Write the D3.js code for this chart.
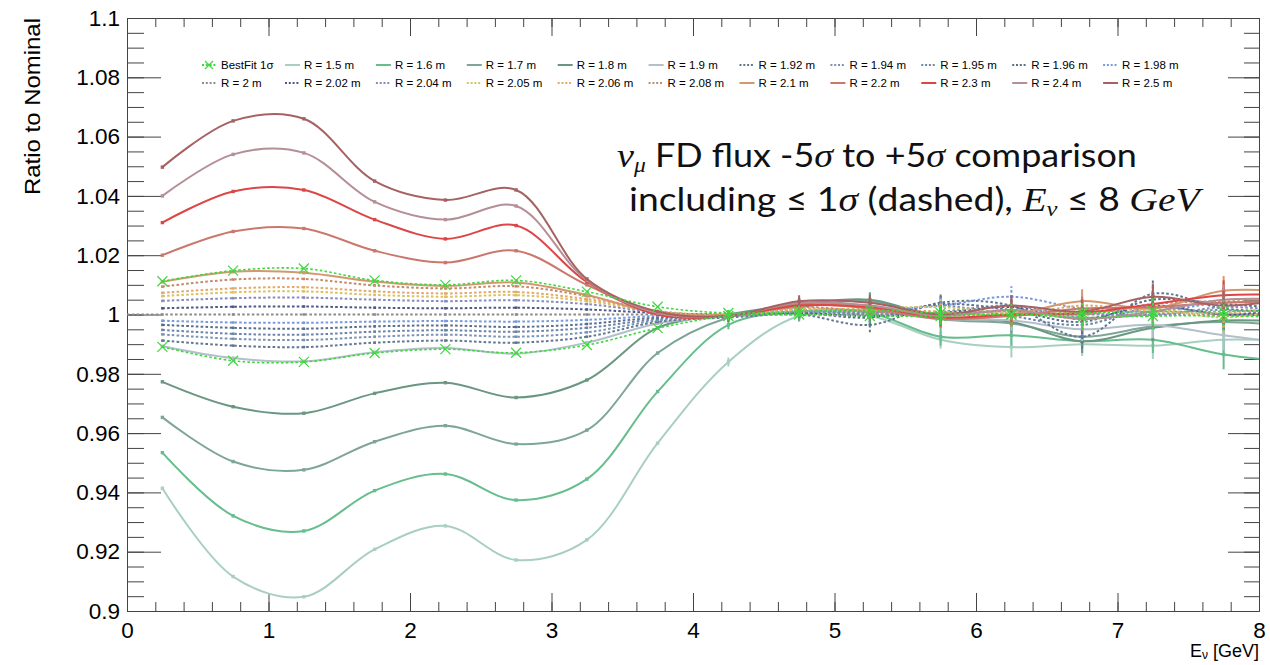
<!DOCTYPE html>
<html><head><meta charset="utf-8">
<script src="https://cdn.jsdelivr.net/npm/d3@7"></script>
<style>body{margin:0;background:#fff}svg{display:block}</style>
</head><body>
<svg id="chart" width="1270" height="665"></svg>
<script>
// ---------------- DATA ----------------
const energies = [0.25,0.75,1.25,1.75,2.25,2.75,3.25,3.75,4.25,4.75,5.25,5.75,6.25,6.75,7.25,7.75,8.25];
const xTickLabels = ["0","1","2","3","4","5","6","7","8"];
const yTickLabels = ["0.9","0.92","0.94","0.96","0.98","1","1.02","1.04","1.06","1.08","1.1"];

const bestFitUp   = [1.0112,1.0148,1.0155,1.0115,1.0100,1.0115,1.0077,1.0026,1.0005,1.0010,1.0015,1.0005,1.0000,1.0005,1.0010,1.0010,1.0015];
const bestFitDown = [0.9891,0.9844,0.9840,0.9870,0.9883,0.9871,0.9897,0.9954,0.9995,1.0000,0.9995,0.9995,1.0000,0.9990,0.9995,0.9995,0.9990];

const r150 = [0.9414,0.9116,0.9048,0.9208,0.9287,0.9172,0.9240,0.9566,0.9840,0.9995,0.9995,0.9915,0.9890,0.9900,0.9895,0.9915,0.9910];
const r160 = [0.9534,0.9321,0.9270,0.9406,0.9462,0.9374,0.9445,0.9740,0.9965,1.0010,1.0005,0.9925,0.9930,0.9910,0.9915,0.9865,0.9840];
const r170 = [0.9653,0.9504,0.9476,0.9571,0.9625,0.9563,0.9610,0.9870,0.9990,1.0025,1.0045,0.9985,0.9970,0.9925,0.9960,0.9975,0.9960];
const r180 = [0.9773,0.9689,0.9667,0.9734,0.9770,0.9720,0.9779,0.9955,1.0000,1.0035,1.0050,0.9990,0.9975,0.9910,0.9955,0.9980,0.9975];
const r190 = [0.9893,0.9853,0.9842,0.9873,0.9887,0.9868,0.9905,0.9970,0.9995,1.0010,1.0010,0.9985,0.9980,0.9950,0.9965,0.9930,0.9900];
const r192 = [0.9912,0.9895,0.9890,0.9905,0.9912,0.9905,0.9925,0.9975,0.9990,1.0000,0.9965,1.0040,1.0030,0.9925,1.0070,1.0020,1.0010];
const r194 = [0.9933,0.9918,0.9914,0.9925,0.9932,0.9925,0.9940,0.9980,0.9995,1.0010,1.0000,1.0010,1.0030,0.9990,1.0000,1.0015,0.9990];
const r195 = [0.9948,0.9935,0.9932,0.9942,0.9947,0.9942,0.9955,0.9985,0.9998,1.0015,1.0005,1.0030,0.9995,0.9965,1.0025,1.0000,1.0005];
const r196 = [0.9965,0.9955,0.9952,0.9960,0.9963,0.9958,0.9968,0.9990,0.9998,1.0005,0.9990,1.0035,1.0015,0.9975,1.0050,1.0035,1.0020];
const r198 = [0.9979,0.9973,0.9972,0.9976,0.9978,0.9976,0.9982,0.9995,1.0000,1.0010,1.0015,1.0030,1.0060,1.0020,1.0010,1.0040,1.0035];
const r200 = [1,1,1,1,1,1,1,1,1,1,1,1,1,1,1,1,1];
const r202 = [1.0021,1.0026,1.0027,1.0023,1.0021,1.0023,1.0017,1.0005,1.0000,1.0005,0.9995,1.0005,1.0025,0.9985,1.0030,1.0000,1.0015];
const r204 = [1.0046,1.0055,1.0057,1.0050,1.0045,1.0048,1.0035,1.0008,0.9995,1.0010,1.0010,1.0000,1.0015,1.0005,0.9995,1.0025,1.0010];
const r205 = [1.0062,1.0075,1.0078,1.0066,1.0060,1.0065,1.0045,1.0010,0.9998,1.0015,1.0020,1.0025,1.0005,1.0010,1.0020,0.9990,1.0020];
const r206 = [1.0073,1.0088,1.0092,1.0078,1.0071,1.0076,1.0052,1.0012,0.9998,1.0020,1.0015,1.0010,0.9995,1.0030,1.0010,1.0005,1.0030];
const r208 = [1.0094,1.0118,1.0120,1.0098,1.0088,1.0095,1.0062,1.0010,0.9998,1.0025,1.0010,1.0005,1.0010,1.0000,1.0035,1.0045,1.0040];
const r210 = [1.0110,1.0144,1.0141,1.0111,1.0096,1.0108,1.0066,1.0005,0.9998,1.0030,1.0030,0.9990,1.0000,1.0045,1.0020,1.0080,1.0075];
const r220 = [1.0200,1.0280,1.0290,1.0215,1.0175,1.0215,1.0100,1.0000,0.9995,1.0035,1.0020,0.9985,0.9995,1.0020,1.0025,1.0040,1.0045];
const r230 = [1.0310,1.0415,1.0420,1.0320,1.0255,1.0300,1.0110,1.0000,0.9995,1.0030,1.0025,0.9990,1.0000,1.0005,1.0035,1.0065,1.0065];
const r240 = [1.0400,1.0540,1.0545,1.0380,1.0320,1.0366,1.0115,1.0005,0.9995,1.0040,1.0030,0.9995,1.0015,0.9985,1.0010,1.0050,1.0050];
const r250 = [1.0497,1.0653,1.0660,1.0450,1.0386,1.0420,1.0120,1.0010,0.9995,1.0045,1.0040,1.0000,1.0030,1.0010,1.0060,1.0030,1.0055];

const statErrors = [0.0002,0.0002,0.0002,0.0002,0.0003,0.0004,0.0005,0.0008,0.0015,0.0020,0.0025,0.0030,0.0035,0.0040,0.0045,0.0050,0.0050];

const radiusLabels = ["R = 1.5 m","R = 1.6 m","R = 1.7 m","R = 1.8 m","R = 1.9 m","R = 1.92 m","R = 1.94 m","R = 1.95 m","R = 1.96 m","R = 1.98 m",
                      "R = 2 m","R = 2.02 m","R = 2.04 m","R = 2.05 m","R = 2.06 m","R = 2.08 m","R = 2.1 m","R = 2.2 m","R = 2.3 m","R = 2.4 m","R = 2.5 m"];
const radiusValues = [r150,r160,r170,r180,r190,r192,r194,r195,r196,r198,r200,r202,r204,r205,r206,r208,r210,r220,r230,r240,r250];
const radiusColors = ["#a9cfc0","#66bd8e","#7ea696","#6a9782","#b3bfcb","#62778f","#7b93b3","#6c84aa","#5b6f8a","#7799dd",
                      "#8c8c8c","#4e5889","#8a8abf","#d8c262","#e6a868","#c48a6c","#d39870","#cb786c","#dc4646","#b58e96","#a66262"];
const radiusDotted = [false,false,false,false,false,true,true,true,true,true,true,true,true,true,true,true,false,false,false,false,false];
const bestFitLabel = "BestFit 1σ";
const bestFitColor = "#3fd83f";

// ---------------- LAYOUT ----------------
const svg = d3.select("#chart");
const W = 1270, H = 665;
const plot = {left:127, right:1259, top:18, bottom:611};
const x = d3.scaleLinear().domain([0,8]).range([plot.left, plot.right]);
const y = d3.scaleLinear().domain([0.9,1.1]).range([plot.bottom, plot.top]);
const font = "'Liberation Sans', Arial, Helvetica, sans-serif";

svg.append("rect").attr("width",W).attr("height",H).attr("fill","#fff");
svg.append("defs").append("clipPath").attr("id","clip").append("rect")
  .attr("x",plot.left).attr("y",plot.top).attr("width",plot.right-plot.left).attr("height",plot.bottom-plot.top);

const dashFor = d => d ? "2.6,2.2" : null;

// ---------------- AXES ----------------
const yMajor = d3.range(0,11).map(i=>0.9+i*0.02);
const yMinor = d3.range(0,41).map(i=>0.9+i*0.005);
const xMajor = d3.range(0,9);
const xMinor = d3.range(0,41).map(i=>i*0.2);

function styleAxis(g){
  g.select(".domain").attr("stroke","#444").attr("stroke-width",1);
  g.selectAll(".tick line").attr("stroke","#444").attr("stroke-width",1);
  g.selectAll("text").attr("fill","#000");
}
svg.append("g").attr("transform",`translate(${plot.left},0)`)
  .call(d3.axisLeft(y).tickValues(yMinor).tickSize(-17).tickSizeOuter(0).tickFormat(""))
  .call(styleAxis);
svg.append("g").attr("transform",`translate(${plot.left},0)`)
  .call(d3.axisLeft(y).tickValues(yMajor).tickSize(-34).tickSizeOuter(0).tickPadding(7)
        .tickFormat((d,i)=>yTickLabels[i]))
  .call(styleAxis)
  .call(g=>g.selectAll("text").attr("font-family",font).attr("font-size",22.5));
svg.append("g").attr("transform",`translate(${plot.right},0)`)
  .call(d3.axisRight(y).tickValues(yMinor).tickSize(-15).tickSizeOuter(0).tickFormat(""))
  .call(styleAxis);
svg.append("g").attr("transform",`translate(${plot.right},0)`)
  .call(d3.axisRight(y).tickValues(yMajor).tickSize(-31).tickSizeOuter(0).tickFormat(""))
  .call(styleAxis);
svg.append("g").attr("transform",`translate(0,${plot.bottom})`)
  .call(d3.axisBottom(x).tickValues(xMinor).tickSize(-9).tickSizeOuter(0).tickFormat(""))
  .call(styleAxis);
svg.append("g").attr("transform",`translate(0,${plot.bottom})`)
  .call(d3.axisBottom(x).tickValues(xMajor).tickSize(-18).tickSizeOuter(0).tickPadding(11)
        .tickFormat((d,i)=>xTickLabels[i]))
  .call(styleAxis)
  .call(g=>g.selectAll("text").attr("font-family",font).attr("font-size",22.5));
svg.append("g").attr("transform",`translate(0,${plot.top})`)
  .call(d3.axisTop(x).tickValues(xMinor).tickSize(-9).tickSizeOuter(0).tickFormat(""))
  .call(styleAxis);
svg.append("g").attr("transform",`translate(0,${plot.top})`)
  .call(d3.axisTop(x).tickValues(xMajor).tickSize(-18).tickSizeOuter(0).tickFormat(""))
  .call(styleAxis);

// titles
svg.append("text").attr("transform",`translate(40,${plot.top}) rotate(-90)`)
  .attr("text-anchor","end").attr("font-family",font).attr("font-size",22)
  .attr("textLength",177).attr("lengthAdjust","spacingAndGlyphs")
  .text("Ratio to Nominal");
const xt = svg.append("text").attr("x",plot.right).attr("y",657).attr("text-anchor","end")
  .attr("font-family",font).attr("font-size",18);
xt.append("tspan").text("E");
xt.append("tspan").attr("dy",2).attr("font-size",12).text("ν");
xt.append("tspan").attr("dy",-2).text(" [GeV]");

// ---------------- CURVES ----------------
const plotG = svg.append("g").attr("clip-path","url(#clip)");
const smooth = d3.line().x(d=>x(d.e)).y(d=>y(d.v)).curve(d3.curveCatmullRom.alpha(0.5));
const straight = d3.line().x(d=>x(d.e)).y(d=>y(d.v));

function drawSeries(values, color, dotted, marker, width){
  const pts = energies.map((e,i)=>({e, v:values[i], err:statErrors[i]}));
  const flat = values.every(v=>v===values[0]);
  const g = plotG.append("g");
  const d = flat ? straight([{e:x.domain()[0],v:values[0]},{e:x.domain()[1],v:values[0]}]) : smooth(pts);
  g.append("path").attr("d", d).attr("fill","none").attr("stroke",color)
    .attr("stroke-width",width).attr("stroke-dasharray",dashFor(dotted));
  g.selectAll("line.err").data(pts.filter(p=>p.err>0.0009)).join("line").attr("class","err")
    .attr("x1",p=>x(p.e)).attr("x2",p=>x(p.e)).attr("y1",p=>y(p.v-p.err)).attr("y2",p=>y(p.v+p.err))
    .attr("stroke",color).attr("stroke-width",width).attr("stroke-dasharray",dashFor(dotted));
  if (marker === "x") {
    g.selectAll("path.mk").data(pts).join("path").attr("class","mk")
      .attr("d",p=>`M${x(p.e)-5},${y(p.v)-5}L${x(p.e)+5},${y(p.v)+5}M${x(p.e)-5},${y(p.v)+5}L${x(p.e)+5},${y(p.v)-5}`)
      .attr("stroke",color).attr("stroke-width",1.2).attr("fill","none");
  } else {
    const s = dotted ? 2.6 : 3.4;
    g.selectAll("rect.mk").data(pts).join("rect").attr("class","mk")
      .attr("x",p=>x(p.e)-s/2).attr("y",p=>y(p.v)-s/2).attr("width",s).attr("height",s).attr("fill",color);
  }
}
radiusValues.forEach((vals,i)=>drawSeries(vals, radiusColors[i], radiusDotted[i], "sq", 2));
drawSeries(bestFitUp, bestFitColor, true, "x", 1.6);
drawSeries(bestFitDown, bestFitColor, true, "x", 1.6);

// ---------------- LEGEND ----------------
const legendEntries = [{label:bestFitLabel, color:bestFitColor, dotted:true, marker:"x"}]
  .concat(radiusLabels.map((l,i)=>({label:l, color:radiusColors[i], dotted:radiusDotted[i], marker:"sq"})));
const leg = svg.append("g").attr("font-family",font).attr("font-size",11.5);
legendEntries.forEach((en,i)=>{
  const row = Math.floor(i/11), col = i%11;
  const sx = col===0 ? 202 : 285 + (col-1)*90.9;
  const sy = 65 + row*18;
  leg.append("line").attr("x1",sx).attr("x2",sx+15).attr("y1",sy).attr("y2",sy)
    .attr("stroke",en.color).attr("stroke-width",2).attr("stroke-dasharray",en.dotted?"2,1.8":null);
  if (en.marker==="x") {
    leg.append("path").attr("d",`M${sx+3},${sy-4}L${sx+11},${sy+4}M${sx+3},${sy+4}L${sx+11},${sy-4}`)
      .attr("stroke",en.color).attr("stroke-width",1.2).attr("fill","none");
  }
  leg.append("text").attr("x",sx+19).attr("y",sy).attr("dy","0.35em").attr("fill","#000").text(en.label);
});

// ---------------- ANNOTATION ----------------
const ann = svg.append("g").attr("font-family","Lato,'Open Sans',sans-serif").attr("font-size",32).attr("fill","#111");
const mathFont = "'Liberation Serif','DejaVu Serif',serif";
function richLine(parts, x0, y0, targetW){
  const t = ann.append("text").attr("x",x0).attr("y",y0);
  let shift = 0;
  parts.forEach(p=>{
    const ts = t.append("tspan").text(p.t);
    if (p.m) ts.attr("font-family",mathFont).attr("font-style","italic").attr("font-size",34);
    const want = p.s ? 5 : 0;
    if (want!==shift) { ts.attr("dy", want-shift); shift = want; }
    if (p.s) ts.attr("font-size",21);
  });
  const w = t.node().getComputedTextLength();
  const s = targetW / w;
  t.attr("transform",`translate(${x0},0) scale(${s},1) translate(${-x0},0)`);
}
richLine([{t:"ν",m:1},{t:"μ",m:1,s:1},{t:" FD flux -5"},{t:"σ",m:1},{t:" to +5"},{t:"σ",m:1},{t:" comparison"}], 617, 167, 520);
richLine([{t:"including ≤ 1"},{t:"σ",m:1},{t:" (dashed), "},{t:"E",m:1},{t:"ν",m:1,s:1},{t:" ≤ 8 "},{t:"GeV",m:1}], 629, 211, 571);
</script>
</body></html>
